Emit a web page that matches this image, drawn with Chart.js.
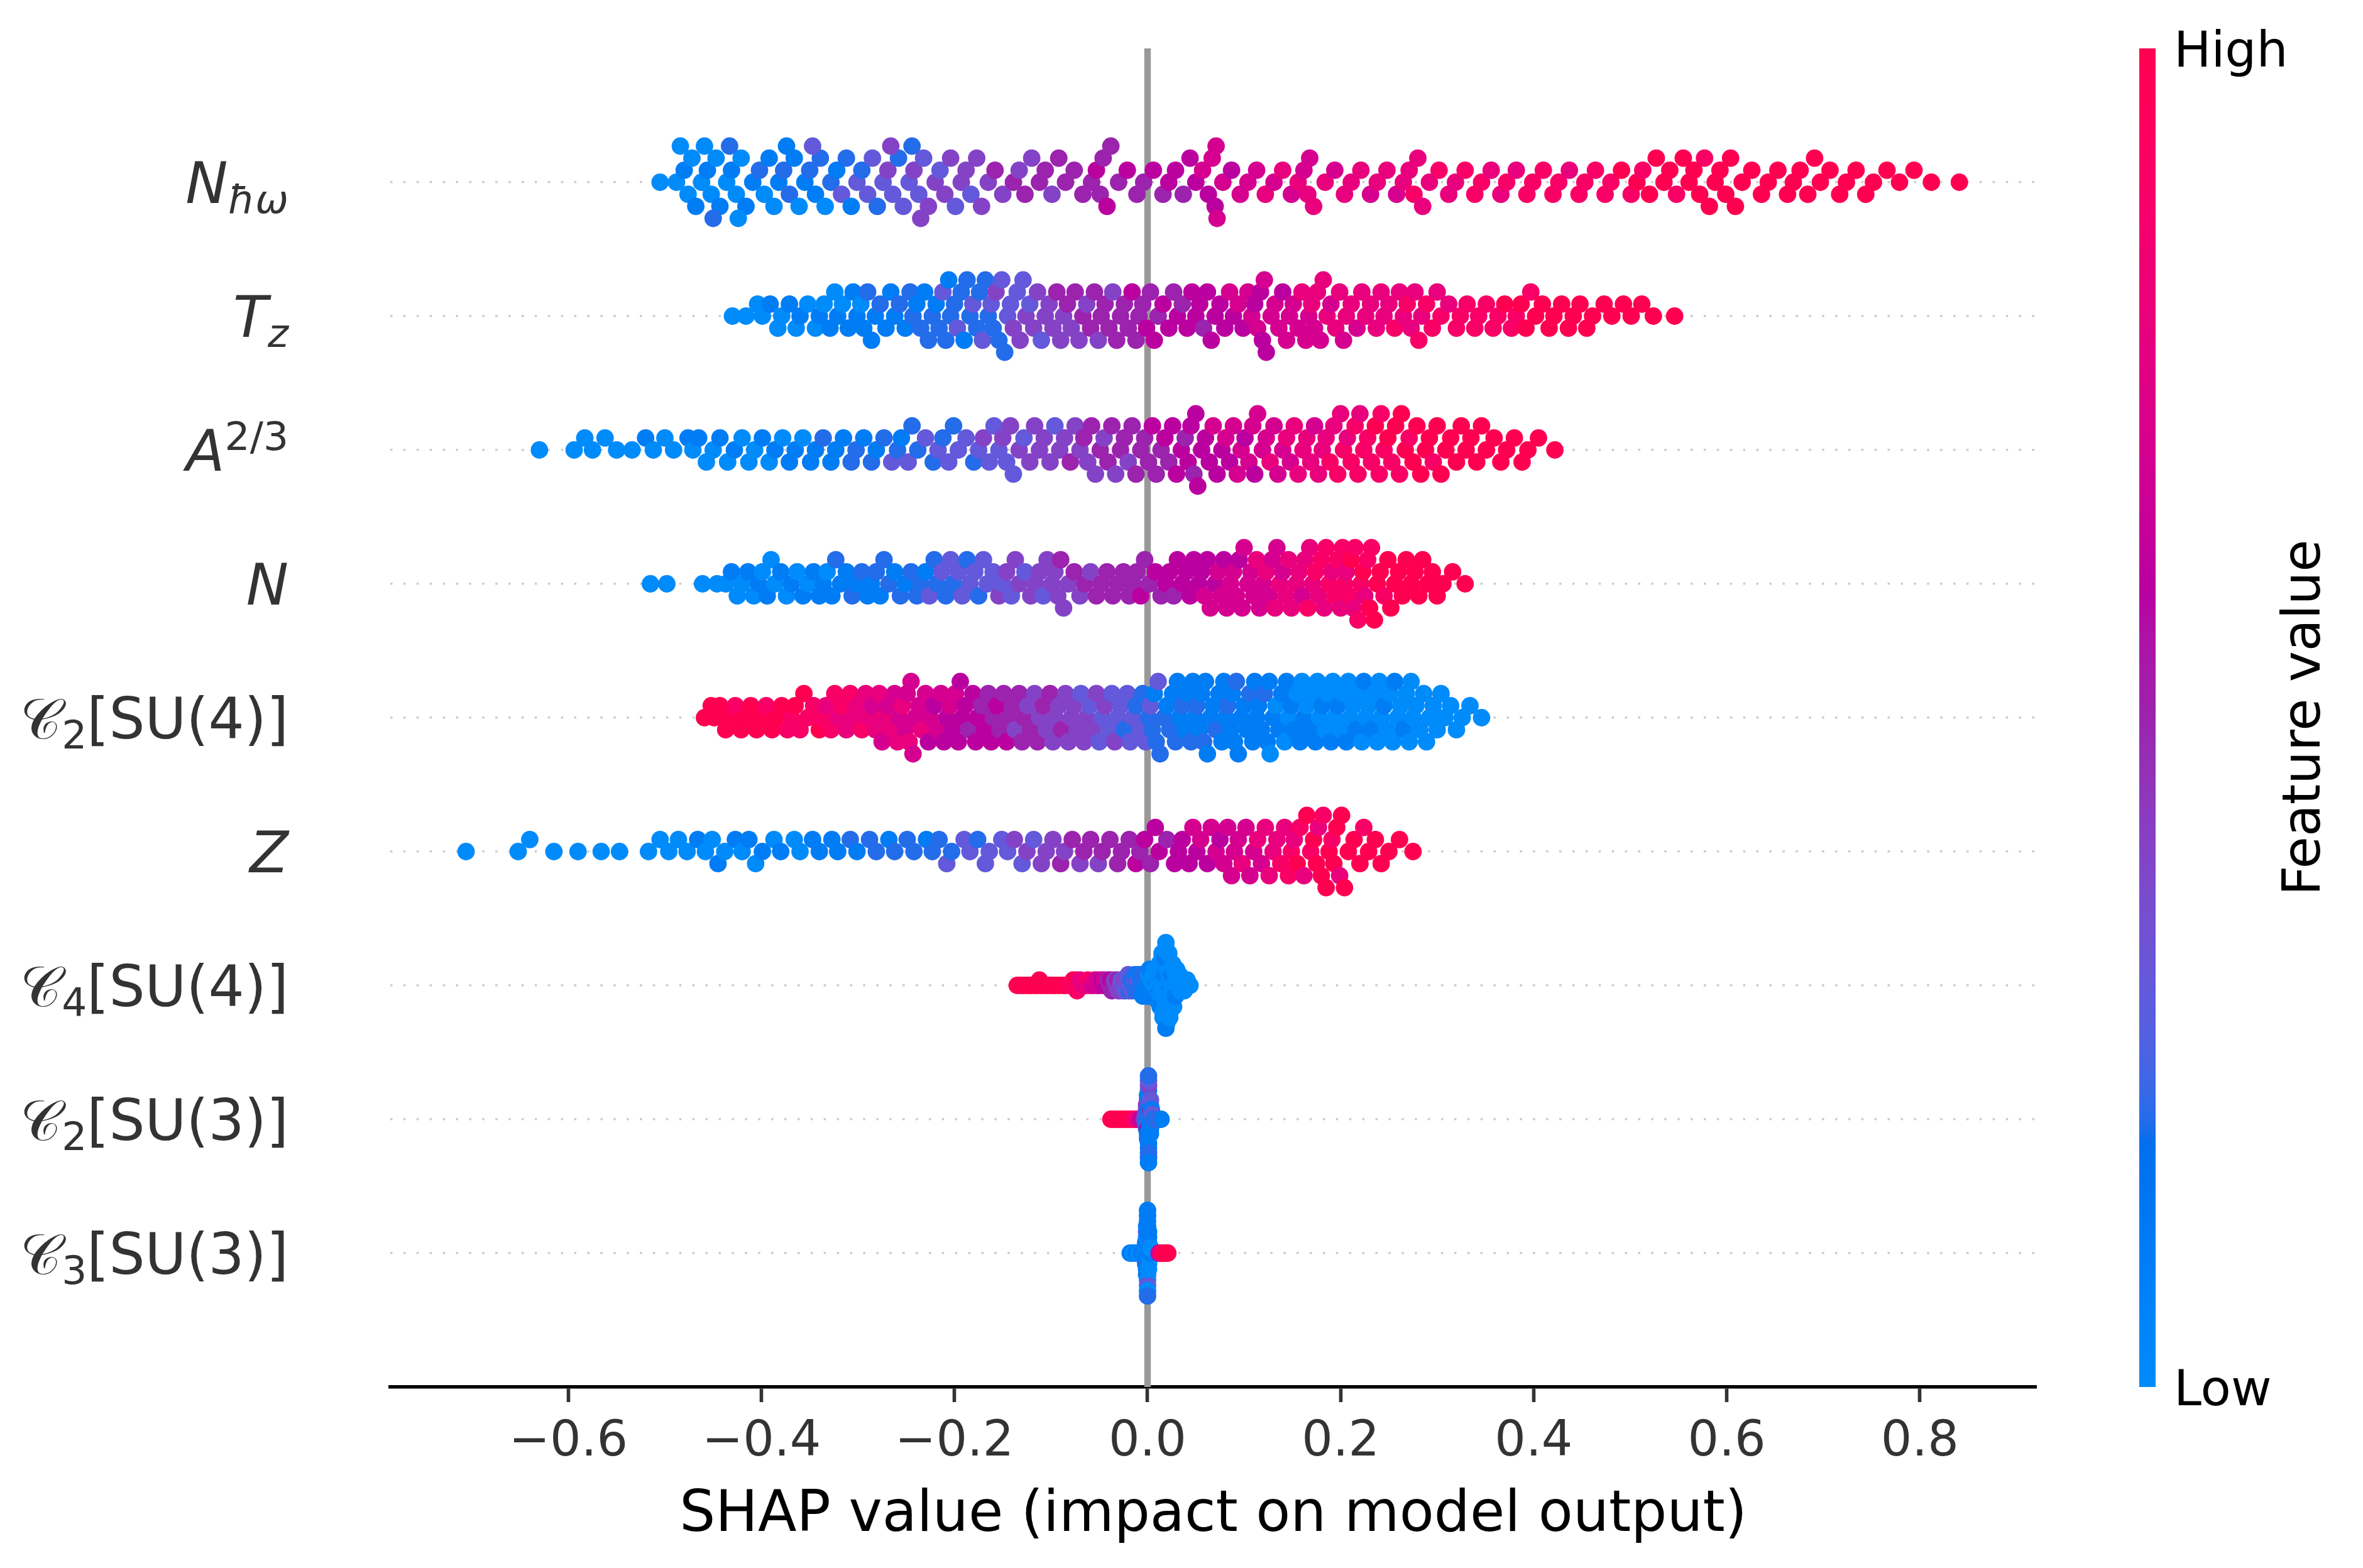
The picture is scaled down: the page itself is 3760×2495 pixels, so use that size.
<!DOCTYPE html>
<html>
<head>
<meta charset="utf-8">
<script src="https://cdn.jsdelivr.net/npm/chart.js@4.4.1/dist/chart.umd.min.js"></script>
<style>
  html, body { margin: 0; padding: 0; background: #ffffff; }
  #wrap { width: 3760px; height: 2495px; }
</style>
</head>
<body>
<div id="wrap"><canvas id="shapChart" width="3760" height="2495"></canvas></div>
<script>
// SHAP values are in thousandths, feature values are on a 0..10 scale (low..high)
var nhwShap = [
  -505,
  -488,-480,-476,-472,-468,-484,
  -462,-456,-452,-447,-443,-459,-450,
  -436,-431,-426,-421,-416,-433,-424,
  -409,-402,-397,-392,-387,
  -382,-377,-371,-366,-361,-374,
  -355,-350,-344,-339,-334,-347,
  -328,-322,-317,-312,-307,
  -301,-296,-290,-285,-280,
  -274,-269,-264,-258,-253,-266,
  -247,-242,-237,-232,-227,-244,-235,
  -220,-215,-210,-204,-199,
  -193,-188,-183,-177,-172,
  -165,-158,-150,
  -139,-133,-127,-120,
  -112,-106,-99,-92,
  -85,-76,-67,
  -58,-53,-49,-46,-42,-38,
  -30,-21,-11,
  -4,6,16,
  22,29,37,44,
  50,57,63,67,70,71,72,
  78,87,96,
  104,113,122,
  131,140,149,
  156,162,166,168,172,
  184,194,204,
  211,221,231,
  238,248,258,
  265,271,276,280,285,
  292,302,312,
  319,329,339,
  346,356,366,
  372,382,393,
  399,410,420,
  426,437,447,
  453,464,474,
  480,491,501,
  507,513,520,527,
  535,541,548,555,
  561,566,572,577,582,
  588,593,599,604,609,
  616,626,636,
  643,653,663,
  669,676,684,691,
  697,707,717,
  724,734,744,
  752,766,
  779,794,
  812,
  841
];
var nhwValue = [
  0,
  0,1,0,0,1,0,
  0,1,0,0,1,0,2,
  0,1,0,0,1,2,0,
  1,2,0,1,0,
  1,2,2,1,0,1,
  1,2,1,2,0,3,
  2,1,3,2,1,
  3,2,3,3,2,
  3,4,3,2,3,4,
  3,4,3,3,4,2,4,
  4,3,4,4,3,
  4,4,3,4,4,
  4,5,4,
  5,4,5,4,
  5,5,4,5,
  5,5,5,
  5,6,5,5,6,5,
  5,6,5,
  5,6,5,
  6,6,5,6,
  6,7,6,7,6,7,7,
  7,6,7,
  7,7,8,
  7,8,7,
  8,7,8,7,8,
  8,7,8,
  8,8,7,
  8,8,7,
  8,8,9,8,8,
  8,9,8,
  8,9,9,
  9,8,8,
  9,8,9,
  9,9,9,
  9,8,9,
  9,9,9,
  9,10,9,
  10,9,10,10,
  10,10,9,10,
  10,10,10,9,10,
  10,10,10,10,10,
  10,10,10,
  10,10,10,
  10,10,10,10,
  10,10,10,
  10,10,10,
  10,10,
  10,10,
  10,
  10
];

var tzShap = [
  -430,
  -416,-404,
  -399,-391,-383,
  -379,-371,-364,
  -360,-352,-344,
  -340,-335,-329,-324,
  -321,-316,-310,-305,
  -301,-297,-294,-290,-286,
  -282,-277,-271,-266,
  -262,-257,-251,-246,
  -243,-239,-235,-231,-227,
  -223,-219,-216,-212,-209,-206,
  -204,-200,-197,-193,-190,-187,
  -184,-181,-177,-174,-171,-168,
  -165,-162,-160,-157,-154,-151,-148,
  -145,-142,-139,-135,-132,-129,
  -126,-122,-118,-114,-110,
  -106,-102,-98,-94,-90,
  -87,-83,-79,-75,-71,
  -67,-63,-59,-55,-51,
  -48,-44,-40,-36,-32,
  -28,-24,-20,-16,-12,
  -9,-5,-1,3,7,
  11,16,22,27,
  31,36,41,46,
  50,54,58,62,66,
  70,75,80,85,
  89,94,99,104,
  108,111,114,117,119,121,123,
  128,132,136,140,144,
  147,151,156,160,164,
  167,170,173,176,179,182,
  186,190,195,199,203,
  206,211,217,222,
  226,231,237,242,
  245,250,256,261,
  265,269,273,277,281,
  284,289,295,300,
  304,312,320,
  324,331,339,
  343,351,358,
  363,370,377,
  382,387,392,397,
  402,409,416,
  421,429,436,
  441,448,455,
  461,473,
  481,493,
  501,512,
  524,
  546
];
var tzValue = [
  0,
  0,0,
  0,1,0,
  0,1,0,
  1,0,0,
  1,0,1,0,
  1,0,1,1,
  1,0,1,2,1,
  1,2,1,1,
  1,2,1,2,
  2,1,2,1,2,
  2,1,2,3,2,1,
  2,2,3,2,1,2,
  2,3,2,2,3,2,
  2,3,2,4,2,3,2,
  3,3,4,3,4,3,
  4,3,4,4,3,
  4,4,4,5,4,
  4,5,4,5,4,
  5,4,5,5,4,
  5,5,5,4,5,
  5,5,5,6,5,
  5,5,6,5,6,
  5,6,6,5,
  6,5,6,6,
  6,6,5,6,6,
  6,6,6,7,
  6,7,6,7,
  7,6,7,6,6,7,6,
  7,7,7,6,7,
  7,7,7,8,7,
  7,8,7,8,7,8,
  8,7,8,8,7,
  8,8,7,8,
  8,8,8,8,
  8,8,9,8,
  8,9,8,8,9,
  8,9,9,8,
  9,8,9,
  9,9,9,
  9,9,9,
  9,10,9,
  9,10,10,9,
  10,10,10,
  10,10,10,
  10,10,10,
  10,10,
  10,10,
  10,10,
  10,
  10
];

var a23Shap = [
  -630,
  -594,-583,
  -575,-562,
  -550,
  -534,-520,
  -512,-500,
  -491,-476,
  -471,-465,-457,
  -450,-443,-435,
  -428,-420,-413,
  -407,-399,-392,
  -386,-378,-371,
  -365,-357,-349,
  -344,-336,-328,
  -323,-315,-307,
  -302,-294,-286,
  -281,-273,-265,
  -259,-255,-248,-244,
  -238,-230,-222,
  -217,-212,-206,-201,
  -196,-188,-180,
  -175,-170,-164,-159,
  -154,-150,-146,-142,-139,
  -133,-128,-122,-117,
  -112,-107,-101,-96,
  -91,-86,-80,-75,
  -70,-66,-62,-58,-54,
  -49,-45,-41,-37,-33,
  -28,-24,-20,-16,-12,
  -7,-3,1,5,9,
  14,18,22,26,30,
  35,39,42,45,48,50,52,
  56,60,64,68,72,
  77,81,85,89,93,
  97,101,105,109,111,114,
  119,123,127,131,135,
  140,144,148,152,156,
  161,165,169,173,177,
  181,185,189,193,197,200,
  203,207,211,215,218,220,
  224,228,232,236,240,242,
  245,249,253,257,261,263,
  267,271,275,279,283,
  288,292,296,300,304,
  309,314,320,325,
  330,335,341,346,
  351,359,366,
  372,380,388,
  394,405,
  422
];
var a23Value = [
  0,
  0,0,
  0,0,
  0,
  0,1,
  0,0,
  0,1,
  0,1,0,
  0,1,0,
  1,0,0,
  0,1,0,
  1,0,1,
  1,0,1,
  1,2,1,
  1,1,2,
  2,1,2,
  1,2,3,
  2,1,3,2,
  2,3,2,
  3,2,3,2,
  3,3,2,
  3,4,3,3,
  3,4,3,4,3,
  4,3,4,4,
  4,4,4,3,
  4,4,5,4,
  4,5,4,5,4,
  5,4,5,5,4,
  5,5,4,5,5,
  5,5,5,6,5,
  5,6,5,6,6,
  6,5,6,6,5,6,6,
  6,6,6,7,6,
  6,7,6,7,7,
  7,6,7,7,6,7,
  7,7,8,7,7,
  7,8,7,8,8,
  8,8,8,7,8,
  8,8,9,8,9,8,
  9,8,9,9,9,8,
  9,9,9,10,9,9,
  9,10,9,10,9,10,
  10,9,10,10,10,
  10,10,9,10,10,
  10,10,10,10,
  10,10,10,10,
  10,10,10,
  10,10,10,
  10,10,
  10
];

var nShap = [
  -515,
  -498,
  -461,
  -446,
  -437,-431,-425,
  -420,-414,-408,
  -403,-399,-394,-390,
  -386,-380,-374,
  -369,-363,-357,
  -352,-346,-340,
  -336,-332,-327,-323,
  -318,-312,-306,
  -302,-296,-290,
  -286,-281,-277,-273,
  -268,-262,-256,
  -251,-245,-239,
  -235,-230,-226,-221,
  -218,-213,-209,-204,
  -201,-196,-192,-187,
  -184,-179,-175,-170,
  -166,-160,-154,
  -150,-146,-141,-137,
  -133,-127,-121,
  -116,-112,-108,-104,
  -99,-96,-93,-90,-87,
  -82,-76,-70,
  -65,-59,-53,
  -48,-42,-36,
  -31,-25,-19,
  -15,-11,-7,-3,
  2,8,14,
  19,23,27,31,
  36,40,44,48,
  53,56,59,62,65,
  70,73,76,79,82,
  86,89,92,95,98,100,
  104,107,110,113,116,
  120,123,126,129,132,134,
  137,140,143,146,149,
  154,157,160,163,166,168,
  171,174,177,180,183,185,
  188,191,194,197,200,202,
  204,206,209,211,213,215,218,
  221,223,225,228,230,232,235,
  238,241,245,249,252,
  256,260,264,268,
  273,277,281,285,
  290,295,300,
  306,316,
  329
];
var nValue = [
  0,
  0,
  0,
  0,
  0,1,0,
  0,1,0,
  1,0,1,0,
  0,1,0,
  1,0,1,
  0,1,1,
  1,0,1,2,
  1,1,2,
  1,2,1,
  1,2,1,2,
  2,1,2,
  1,2,2,
  2,1,3,2,
  2,3,2,3,
  2,3,3,2,
  3,3,2,3,
  3,3,4,
  3,4,3,4,
  4,3,4,
  4,4,3,4,
  4,4,4,5,4,
  4,5,4,
  5,4,5,
  5,5,5,
  5,5,5,
  5,5,6,5,
  5,6,5,
  6,6,5,6,
  6,6,6,6,
  6,6,7,6,7,
  6,7,7,6,7,
  7,7,7,6,7,7,
  7,7,7,8,7,
  7,8,7,7,8,7,
  8,7,8,8,8,
  8,8,7,8,9,8,
  8,9,8,9,8,9,
  9,8,9,9,8,9,
  9,8,9,10,8,9,9,
  9,10,8,9,10,9,10,
  10,10,9,10,10,
  10,10,10,10,
  10,10,10,10,
  10,10,10,
  10,10,
  10
];

var c2su4Shap = [
  -459,-452,
  -449,-443,-437,
  -433,-427,-421,
  -417,-411,-405,
  -401,-395,-389,
  -385,-379,-373,
  -369,-365,-360,-356,
  -352,-346,-340,
  -337,-333,-328,-324,
  -321,-317,-312,-308,
  -305,-301,-296,-292,
  -289,-285,-282,-278,-275,
  -273,-269,-266,-262,-259,
  -257,-254,-251,-249,-247,-245,-243,
  -241,-237,-234,-230,-227,
  -225,-221,-218,-214,-211,
  -208,-205,-202,-199,-196,-194,
  -192,-189,-185,-181,-178,
  -176,-172,-169,-165,-162,
  -160,-156,-153,-149,-146,
  -144,-140,-137,-133,-130,
  -128,-124,-121,-117,-114,
  -112,-108,-105,-101,-98,
  -96,-92,-89,-85,-82,
  -79,-76,-73,-69,-66,
  -63,-60,-57,-53,-50,
  -47,-44,-40,-37,-34,
  -31,-28,-24,-21,-18,
  -15,-12,-8,-5,-2,
  1,3,5,7,9,11,13,
  17,20,23,26,29,31,
  33,36,39,42,45,47,
  49,51,54,56,58,60,62,
  65,68,71,74,77,79,
  81,83,86,88,90,92,94,
  97,100,103,106,109,111,
  113,115,118,121,124,126,127,
  130,133,136,139,142,144,
  146,149,152,155,158,160,
  162,165,168,171,174,176,
  178,181,184,187,190,192,
  194,197,200,203,206,208,
  210,213,216,219,222,224,
  226,229,232,235,238,240,
  242,245,248,251,254,256,
  259,262,265,268,271,273,
  275,278,282,286,289,
  292,296,300,304,
  308,314,320,
  326,334,
  346
];
var c2su4Value = [
  10,10,
  10,10,10,
  10,9,10,
  10,10,10,
  10,9,10,
  10,10,9,
  9,10,9,10,
  9,9,10,
  9,8,9,9,
  8,9,8,9,
  8,8,9,8,
  8,7,8,8,7,
  8,7,8,7,8,
  7,8,7,7,8,7,7,
  7,7,8,7,6,
  7,6,7,7,6,
  6,7,6,7,6,6,
  6,6,5,6,6,
  6,5,6,5,6,
  5,6,5,5,6,
  5,5,4,5,5,
  5,4,5,4,5,
  4,5,4,5,4,
  4,4,5,4,4,
  4,4,4,3,4,
  4,3,4,4,3,
  3,4,3,3,4,
  3,3,2,3,3,
  3,2,3,2,3,
  2,3,2,1,2,3,2,
  2,1,2,1,2,1,
  1,2,1,1,2,1,
  1,2,1,1,2,1,1,
  1,1,2,1,1,1,
  1,2,1,1,1,2,1,
  1,1,1,2,1,1,
  1,1,1,2,1,1,0,
  1,0,1,1,0,1,
  0,1,1,0,1,0,
  1,0,1,0,1,0,
  0,1,0,0,1,0,
  0,1,0,0,1,0,
  0,0,1,0,0,1,
  0,0,1,0,0,0,
  0,1,0,0,0,1,
  0,0,1,0,0,0,
  0,0,0,0,0,
  0,0,0,0,
  0,0,0,
  0,0,
  0
];

var zShap = [
  -706,
  -652,-640,
  -615,
  -590,
  -566,
  -547,
  -517,-505,
  -496,-486,
  -477,-466,
  -458,-451,-445,
  -438,-427,
  -420,-413,-406,
  -399,-387,
  -380,-366,
  -360,-347,
  -340,-327,
  -321,-308,
  -301,-288,
  -281,-268,
  -262,-249,
  -242,-229,
  -223,-216,-208,
  -203,-190,
  -184,-176,-168,
  -164,-151,
  -145,-138,-130,
  -125,-118,-110,
  -105,-98,-90,
  -86,-78,-70,
  -66,-59,-51,
  -47,-39,-31,
  -27,-19,-12,
  -8,-3,3,8,
  12,20,28,
  32,36,43,47,
  51,55,62,66,
  71,75,79,83,87,
  90,94,98,102,106,
  110,114,118,122,126,
  130,134,138,142,146,
  149,152,155,158,162,165,
  169,172,175,177,180,182,185,
  188,191,193,196,199,201,204,
  208,214,220,224,
  229,236,242,
  250,261,
  275
];
var zValue = [
  0,
  0,0,
  0,
  0,
  0,
  0,
  0,0,
  0,0,
  0,1,
  0,0,1,
  0,1,
  0,1,0,
  1,0,
  1,0,
  0,1,
  1,1,
  1,2,
  1,2,
  2,1,
  2,2,
  2,1,
  2,2,3,
  2,3,
  3,2,3,
  3,3,
  3,4,3,
  4,3,4,
  4,4,5,
  4,5,4,
  5,5,4,
  5,5,5,
  5,5,6,
  5,6,5,6,
  6,5,6,
  6,6,6,7,
  6,7,6,7,
  7,6,7,7,7,
  7,7,8,7,7,
  7,8,7,8,8,
  8,8,9,8,9,
  9,8,10,9,8,10,
  9,10,10,8,10,9,10,
  10,9,10,10,8,10,10,
  10,10,10,9,
  10,10,10,
  10,10,
  10
];

var c4su4Shap = [
  -135,-131,-128,-124,-121,-117,-114,-112,-110,-106,-103,-99,-96,-92,-88,-85,-81,-78,-77,
  -75,-74,-73,-71,-70,-67,-64,-62,-60,-57,-55,-53,-52,-50,-48,-46,-45,-42,-41,
  -39,-38,-37,-35,-34,-32,-31,-30,-28,-27,-26,-25,-24,-23,
  -21,-20,-19,-20,-18,-17,-16,-14,-13,-12,-13,-11,-10,-9,-9,
  -7,-6,-5,-6,-5,-4,-3,-2,-2,-1,
  0,1,2,1,0,2,3,4,5,6,4,7,8,9,7,9,8,
  11,12,13,11,12,13,11,12,13,
  14,15,16,17,14,15,16,17,14,15,16,15,16,
  18,19,20,18,19,20,18,19,20,18,19,20,18,19,20,19,19,
  21,22,23,24,21,22,23,24,21,22,23,22,23,
  25,26,27,25,26,27,25,26,27,
  28,29,30,31,29,30,
  32,33,34,33,36,37,38,39,41,44
];
var c4su4Value = [
  10,10,10,10,10,10,10,10,10,10,10,10,10,10,10,10,9,10,9,
  9,10,9,9,8,8,8,9,8,7,8,7,7,7,6,6,7,6,5,
  5,6,5,5,4,4,5,4,4,3,4,3,4,3,
  3,3,2,3,3,2,3,2,3,2,2,2,3,2,1,
  2,1,2,2,1,1,2,1,2,1,
  1,1,2,0,1,1,1,0,1,0,1,0,1,0,0,1,0,
  0,0,1,0,0,0,1,0,0,
  0,0,0,1,0,0,0,0,1,0,0,0,0,
  0,0,0,1,0,0,0,0,0,1,0,0,0,0,0,0,1,
  0,0,1,0,0,0,0,0,0,1,0,0,0,
  0,0,0,1,0,0,0,0,0,
  0,0,0,0,1,0,
  0,0,0,0,0,0,0,0,0,0
];

var c2su3Shap = [
  -38,-35,-32,-29,-26,-23,-20,-17,-14,-12,-10,-8,-6,-4,-3,
  -2,-2,-2,
  -1,-1,-1,-1,-1,-1,
  0,0,0,0,0,0,0,0,0,0,
  1,2,1,2,1,2,1,2,1,2,1,2,1,2,1,2,1,
  3,3,3,3,3,3,3,3,
  4,4,4,4,
  5,5,6,
  13,14
];
var c2su3Value = [
  10,10,10,10,10,10,10,10,9,9,8,7,6,5,4,
  3,2,4,
  2,3,1,4,2,5,
  1,2,3,1,6,2,1,3,2,1,
  1,2,1,3,1,2,4,1,2,1,3,1,2,1,2,1,1,
  1,2,1,5,1,2,1,3,
  1,2,1,1,
  1,3,2,
  4,1
];

var c3su3Shap = [
  -18,-15,-12,-9,-6,-4,
  -3,-3,-3,
  -2,-2,-2,-2,-2,
  -1,-1,-1,-1,-1,-1,-1,-1,-1,-1,
  0,0,0,0,0,0,0,0,0,0,0,0,0,0,0,0,0,
  1,1,1,1,1,1,1,1,
  2,2,2,
  3,3,
  12,13,14,16,18,20,21
];
var c3su3Value = [
  1,0,1,0,1,2,
  0,1,0,
  1,0,1,0,1,
  1,0,1,1,2,0,1,3,1,0,
  1,0,1,2,1,0,1,1,2,1,0,1,3,1,0,1,2,
  0,1,1,0,2,1,0,1,
  1,2,0,
  1,0,
  6,7,8,10,10,10,10
];

// feature labels, top to bottom: [text, style, script]
var featureLabels = [
  [['N', 'i'], ['\u0127\u03c9', 'i', 'sub']],
  [['T', 'i'], ['z', 'i', 'sub']],
  [['A', 'i'], ['2/3', '', 'sup']],
  [['N', 'i']],
  [['\ud835\udc9e', ''], ['2', '', 'sub'], ['[SU(4)]', '']],
  [['Z', 'i']],
  [['\ud835\udc9e', ''], ['4', '', 'sub'], ['[SU(4)]', '']],
  [['\ud835\udc9e', ''], ['2', '', 'sub'], ['[SU(3)]', '']],
  [['\ud835\udc9e', ''], ['3', '', 'sub'], ['[SU(3)]', '']]
];
var features = [
  {shap: nhwShap, value: nhwValue},
  {shap: tzShap, value: tzValue},
  {shap: a23Shap, value: a23Value},
  {shap: nShap, value: nValue},
  {shap: c2su4Shap, value: c2su4Value},
  {shap: zShap, value: zValue},
  {shap: c4su4Shap, value: c4su4Value},
  {shap: c2su3Shap, value: c2su3Value},
  {shap: c3su3Shap, value: c3su3Value}
];

var xMin = -0.7845, xMax = 0.9206;
var xTitle = 'SHAP value (impact on model output)';
var cbarTitle = 'Feature value';

// shap's red_blue colormap: interpolation in LCH space
function lab2rgb(L, a, b) {
  var y = (L + 16) / 116, x = a / 500 + y, z = y - b / 200;
  if (z < 0) z = 0;
  function f(t) { return t > 0.2068966 ? t * t * t : (t - 16 / 116) / 7.787; }
  var X = f(x) * 0.95047, Y = f(y), Z = f(z) * 1.08883;
  var rgb = [
    3.24048134 * X - 1.53715152 * Y - 0.49853633 * Z,
    -0.96925495 * X + 1.87599 * Y + 0.04155593 * Z,
    0.05564664 * X - 0.20404134 * Y + 1.05731107 * Z
  ];
  return rgb.map(function (v) {
    v = v > 0.0031308 ? 1.055 * Math.pow(v, 1 / 2.4) - 0.055 : 12.92 * v;
    return 255 * Math.min(1, Math.max(0, v));
  });
}

function buildRedBlue() {
  var blue = [54, 70, 4.6588], red = [54, 90, 0.35470565 + 2 * Math.PI], lMid = 40, n = 100, lut = [];
  for (var i = 0; i < n; i++) {
    var l = i < n / 2 ? blue[0] + (lMid - blue[0]) * i / (n / 2 - 1)
                      : lMid + (red[0] - lMid) * (i - n / 2) / (n / 2 - 1);
    var c = blue[1] + (red[1] - blue[1]) * i / (n - 1);
    var h = blue[2] + (red[2] - blue[2]) * i / (n - 1);
    lut.push(lab2rgb(l, c * Math.cos(h), c * Math.sin(h)));
  }
  return lut;
}
var redBlue = buildRedBlue();

function cmap(v) {
  v = Math.min(1, Math.max(0, v));
  var p = v * (redBlue.length - 1), i = Math.min(Math.floor(p), redBlue.length - 2), t = p - i;
  var c0 = redBlue[i], c1 = redBlue[i + 1];
  return 'rgb(' + [0, 1, 2].map(function (k) { return Math.round(c0[k] + (c1[k] - c0[k]) * t); }).join(',') + ')';
}

// beeswarm offsets, same stacking as shap's summary plot
function swarmOffsets(xs, nbins, rowHeight) {
  var lo = Math.min.apply(null, xs), hi = Math.max.apply(null, xs);
  var quant = xs.map(function (x) { return Math.round(nbins * (x - lo) / (hi - lo + 1e-8)); });
  var order = xs.map(function (_, i) { return i; });
  order.sort(function (a, b) { return quant[a] - quant[b] || a - b; });
  var ys = new Array(xs.length).fill(0), layer = 0, last = -1;
  order.forEach(function (i) {
    if (quant[i] !== last) layer = 0;
    ys[i] = Math.ceil(layer / 2) * ((layer % 2) * 2 - 1);
    layer++;
    last = quant[i];
  });
  var m = Math.max.apply(null, ys.map(function (y) { return y + 1; }));
  return ys.map(function (y) { return y * 0.9 * (rowHeight / m); });
}

var datasets = [{
  data: [{x: 0, y: -1}, {x: 0, y: 9}],
  showLine: true,
  borderColor: '#999999',
  borderWidth: 10.4,
  pointRadius: 0,
  order: 10
}];

features.forEach(function (f, i) {
  var pos = features.length - 1 - i;
  var offs = swarmOffsets(f.shap, 50, 0.4);
  datasets.push({
    data: f.shap.map(function (s, j) { return {x: s / 1000, y: pos + offs[j]}; }),
    pointRadius: 13.9,
    pointBorderWidth: 0,
    pointBackgroundColor: f.shap.map(function (s, j) {
      var v = f.value[Math.min(j, f.value.length - 1)];
      return cmap(v / 10);
    }),
    order: 1
  });
});

function drawRich(ctx, runs, right, baseline) {
  var parts = runs.map(function (r) {
    var small = r[2] === 'sub' || r[2] === 'sup';
    var font = (r[1] === 'i' ? 'italic ' : '') + (small ? 63 : 90) + 'px "DejaVu Sans", "DejaVu Serif", sans-serif';
    ctx.font = font;
    return {text: r[0], font: font, w: ctx.measureText(r[0]).width,
            dy: r[2] === 'sub' ? 16 : (r[2] === 'sup' ? -33 : 0)};
  });
  var x = right - parts.reduce(function (s, p) { return s + p.w; }, 0);
  parts.forEach(function (p) {
    ctx.font = p.font;
    ctx.fillText(p.text, x, baseline + p.dy);
    x += p.w;
  });
}

var decorations = {
  id: 'decorations',
  afterDraw: function (chart) {
    var ctx = chart.ctx, area = chart.chartArea, ys = chart.scales.y;
    ctx.save();
    ctx.textAlign = 'left';
    ctx.textBaseline = 'alphabetic';
    ctx.fillStyle = '#333333';
    featureLabels.forEach(function (runs, i) {
      var pos = featureLabels.length - 1 - i;
      drawRich(ctx, runs, area.left - 162, ys.getPixelForValue(pos) + 33);
    });

    // x axis title
    ctx.fillStyle = '#000000';
    ctx.font = '90px "DejaVu Sans"';
    ctx.textAlign = 'center';
    ctx.fillText(xTitle, (area.left + area.right) / 2, 2436);

    // colour bar
    var cbX = area.right + 164, cbW = 26;
    var grad = ctx.createLinearGradient(0, area.bottom, 0, area.top);
    redBlue.forEach(function (c, i) {
      grad.addColorStop(i / (redBlue.length - 1), 'rgb(' + c.map(Math.round).join(',') + ')');
    });
    ctx.fillStyle = grad;
    ctx.fillRect(cbX, area.top, cbW, area.bottom - area.top);

    ctx.fillStyle = '#000000';
    ctx.font = '79px "DejaVu Sans"';
    ctx.textAlign = 'left';
    ctx.fillText('High', area.right + 219, area.top + 29);
    ctx.fillText('Low', area.right + 219, area.bottom + 29);

    ctx.font = '83px "DejaVu Sans"';
    ctx.translate(3691, (area.top + area.bottom) / 2);
    ctx.rotate(-Math.PI / 2);
    ctx.textAlign = 'center';
    ctx.fillText(cbarTitle, 0, 0);
    ctx.restore();
  }
};

function tickText(v) {
  return (v < -1e-9 ? '\u2212' : '') + Math.abs(v).toFixed(1);
}

new Chart(document.getElementById('shapChart'), {
  type: 'scatter',
  data: {datasets: datasets},
  options: {
    responsive: false,
    animation: false,
    devicePixelRatio: 1,
    events: [],
    layout: {padding: {left: 0, top: 77, right: 520, bottom: 0}},
    plugins: {legend: {display: false}, tooltip: {enabled: false}},
    scales: {
      x: {
        type: 'linear',
        min: xMin,
        max: xMax,
        afterFit: function (s) { s.height = 288; },
        border: {display: true, color: '#000000', width: 5.6},
        grid: {drawOnChartArea: false, drawTicks: true, tickLength: 24, tickWidth: 5.6, tickColor: '#333333'},
        ticks: {
          stepSize: 0.2, includeBounds: false, autoSkip: false, maxRotation: 0,
          color: '#333333', padding: 18,
          font: {family: 'DejaVu Sans', size: 78},
          callback: tickText
        }
      },
      y: {
        type: 'linear',
        min: -1,
        max: 9,
        afterFit: function (s) { s.width = 621; },
        border: {display: false, dash: [3.5, 17.4]},
        grid: {
          drawTicks: false,
          lineWidth: 3.5,
          borderDash: [3.5, 17.4],
          color: function (c) {
            var v = c.tick ? c.tick.value : -1;
            return (v >= 0 && v <= 8) ? '#cccccc' : 'rgba(0,0,0,0)';
          }
        },
        ticks: {display: false, stepSize: 1}
      }
    }
  },
  plugins: [decorations]
});
</script>
</body>
</html>
